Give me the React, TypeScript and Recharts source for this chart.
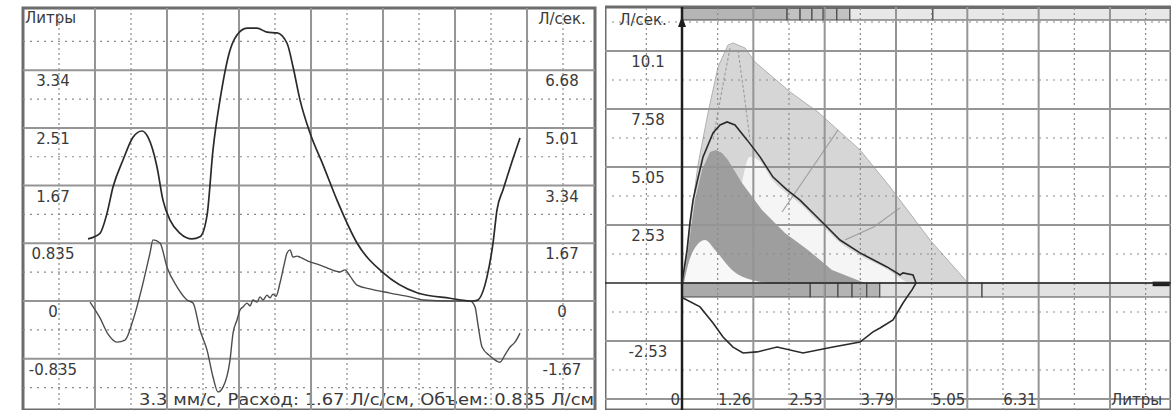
import React from 'react';
import { ComposedChart, Line, Area, XAxis, YAxis, ReferenceLine, ReferenceArea } from 'recharts';

// ---------- left panel: volume and flow against time ----------
// time is counted in grid divisions, volume in litres, flow in l/s
const volumeByTime: number[][] = [
    [0.903, 0.9], [1.069, 0.98], [1.167, 1.27], [1.25, 1.65], [1.389, 2.04], [1.528, 2.37],
    [1.653, 2.46], [1.736, 2.37], [1.861, 1.94], [1.944, 1.46], [2.042, 1.17], [2.181, 0.98],
    [2.347, 0.9], [2.458, 0.93], [2.556, 1.24], [2.639, 2.19], [2.736, 2.91], [2.875, 3.63],
    [2.972, 3.85], [3.111, 3.95], [3.25, 3.95], [3.389, 3.89], [3.528, 3.88], [3.667, 3.73],
    [3.75, 3.39], [3.847, 2.91], [3.986, 2.43], [4.167, 1.97], [4.361, 1.46], [4.639, 0.84],
    [5.0, 0.41], [5.472, 0.12], [5.931, 0.04], [6.236, 0.0], [6.306, 0.01], [6.444, 0.35],
    [6.528, 0.84], [6.583, 1.32], [6.667, 1.61], [6.764, 1.93], [6.903, 2.36],
];

const flowByTime: number[][] = [
    [0.931, -0.03], [1.069, -0.49], [1.181, -0.96], [1.306, -1.19], [1.417, -1.13], [1.528, -0.55],
    [1.667, 0.52], [1.764, 1.39], [1.806, 1.77], [1.903, 1.68], [2.0, 0.98], [2.139, 0.41],
    [2.278, 0.03], [2.361, -0.06], [2.458, -0.84], [2.556, -1.42], [2.639, -2.2], [2.708, -2.63],
    [2.778, -2.49], [2.875, -1.71], [2.917, -0.93], [2.972, -0.55], [3.014, -0.26], [3.056, -0.17],
    [3.111, -0.06], [3.153, -0.14], [3.194, 0.03], [3.25, -0.03], [3.292, 0.12], [3.333, 0.03],
    [3.389, 0.17], [3.431, 0.09], [3.472, 0.2], [3.514, 0.14], [3.569, 0.52], [3.625, 1.04],
    [3.667, 1.39], [3.708, 1.48], [3.75, 1.27], [3.806, 1.3], [3.847, 1.27], [3.986, 1.13],
    [4.125, 1.04], [4.222, 0.96], [4.333, 0.87], [4.403, 0.84], [4.472, 0.9], [4.542, 0.72],
    [4.639, 0.46], [4.819, 0.35], [5.097, 0.23], [5.375, 0.12], [5.556, 0.03], [5.931, 0.0],
    [6.208, 0.0], [6.278, -0.17], [6.319, -0.69], [6.375, -1.33], [6.486, -1.59], [6.625, -1.77],
    [6.694, -1.56], [6.764, -1.33], [6.833, -1.19], [6.903, -0.93],
];

const volMajor = [-0.835, 0, 0.835, 1.67, 2.505, 3.34];
const volLabels = ['-0.835', '0', '0.835', '1.67', '2.51', '3.34'];
const flowLabels = ['-1.67', '0', '1.67', '3.34', '5.01', '6.68'];
const volMinor = [-1.2525, -0.4175, 0.4175, 1.2525, 2.0875, 2.9225, 3.7575];
const timeMajor = [1, 2, 3, 4, 5, 6, 7];
const timeMinor = [0.5, 1.5, 2.5, 3.5, 4.5, 5.5, 6.5, 7.5];
const caption = '3.3 мм/с, Расход: 1.67 Л/с/см, Объем: 0.835 Л/см';

// ---------- right panel: flow-volume loop ----------
const loopCurve: number[][] = [
    [0, 0], [0.089, 1.44], [0.142, 2.66], [0.195, 3.61], [0.283, 4.57], [0.372, 5.49],
    [0.549, 6.53], [0.673, 6.88], [0.797, 7.01], [0.938, 6.88], [1.151, 6.23], [1.381, 5.49],
    [1.611, 4.61], [1.859, 4.05], [2.089, 3.61], [2.354, 2.96], [2.567, 2.44], [2.797, 1.87],
    [3.151, 1.31], [3.629, 0.7], [3.859, 0.35], [3.912, 0.44], [4.089, 0.35], [4.142, 0],
    [4.071, -0.3], [3.983, -0.61], [3.912, -0.87], [3.735, -1.61], [3.505, -1.96], [3.381, -2.13],
    [3.151, -2.57], [2.673, -2.79], [2.142, -3.05], [1.682, -2.79], [1.328, -3.0], [1.08, -3.05],
    [0.903, -2.79], [0.726, -2.35], [0.549, -1.74], [0.319, -1.04], [0.018, -0.65],
];

const normalRange: number[][] = [
    [0, 0], [0.071, 1.0], [0.177, 3.18], [0.283, 5.14], [0.46, 7.4], [0.637, 9.4], [0.814, 10.36],
    [0.903, 10.45], [1.115, 10.23], [1.292, 9.62], [1.912, 8.32], [2.407, 7.44], [3.151, 5.79],
    [3.682, 4.18], [4.39, 1.87], [5.062, 0],
];

const clearWedge: number[][] = [
    [1.06, 4.35], [1.2, 5.5], [1.381, 5.3], [1.611, 4.45], [1.859, 3.9], [2.089, 3.45],
    [2.354, 2.8], [2.567, 2.3], [2.797, 1.75], [3.151, 1.2], [3.629, 0.6], [3.9, 0.15], [4.0, 0],
];

const normalCore: number[][] = [
    [0, 0], [0.053, 0.57], [0.106, 1.44], [0.23, 3.61], [0.354, 4.92], [0.496, 5.7], [0.602, 5.79],
    [0.708, 5.66], [0.814, 5.35], [1.062, 4.35], [1.416, 3.18], [1.823, 2.18], [2.23, 1.44],
    [2.655, 0.57], [3.239, 0],
];

const coreGap: number[][] = [
    [0.035, 0], [0.106, 0.78], [0.266, 1.65], [0.407, 1.87], [0.584, 1.44], [0.885, 0.57],
    [1.239, 0.13], [1.558, 0],
];

const guideLines: number[][][] = [
    [[0.85, 10.23], [0.7, 8.3], [0.549, 6.23]],
    [[0.991, 10.14], [1.1, 8.2], [1.204, 6.23]],
    [[1.77, 3.09], [2.761, 6.66]],
    [[2.885, 1.87], [3.4, 2.45], [3.859, 3.27]],
];

const litreMajor = [0, 1.2625, 2.525, 3.7875, 5.05, 6.3125, 7.575];
const litreLabels = ['0', '1.26', '2.53', '3.79', '5.05', '6.31', 'Литры'];
const litreMinor = [-0.63125, 0.63125, 1.89375, 3.15625, 4.41875, 5.68125, 6.94375, 8.20625];
const lpsMajor = [-5.05, -2.525, 2.525, 5.05, 7.575, 10.1];
const lpsLabels = ['', '-2.53', '2.53', '5.05', '7.58', '10.1'];
const lpsMinor = [-3.7875, -1.2625, 1.2625, 3.7875, 6.3125, 8.8375, 11.3625];

// scale markers of the two bars (litres)
const topBarBoxes = [1.86, 2.09, 2.3, 2.5, 2.74, 2.97];
const topBarSplit = 4.44;
const bottomBarBoxes = [2.27, 2.53, 2.76, 3.01, 3.27, 3.5];
const bottomBarSplit = 5.31;

const T_DOMAIN: [number, number] = [0, 7.944];
const VOL_DOMAIN: [number, number] = [-1.577, 4.24];
const FLOW_DOMAIN: [number, number] = [-3.154, 8.48];
const L_DOMAIN: [number, number] = [-1.363, 8.655];
const F_DOMAIN: [number, number] = [-5.529, 12.015];

const FONT = '"DejaVu Sans", "Liberation Sans", sans-serif';
const TEXT = '#3a3a3a';
const GRID = '#959595';
const DOT = '#8a8a8a';
const FRAME = '#6c6c6c';

const textStyle = { fontFamily: FONT, fontSize: 15, fill: TEXT };

const toRows = (arr: number[][], xk: string, yk: string) => arr.map(([a, b]) => ({ [xk]: a, [yk]: b }));

const LeftPanel = () => {
    const frameLabel = (p: any) => {
        const vb = p.viewBox;
        return (
            <g>
                <text x={vb.x + 2} y={vb.y + 15} {...textStyle}>Литры</text>
                <text x={vb.x + vb.width - 33} y={vb.y + 16} textAnchor="middle" {...textStyle}>Л/сек.</text>
                <text x={vb.x + vb.width - 1} y={vb.y + vb.height - 5} textAnchor="end"
                    textLength={455} lengthAdjust="spacingAndGlyphs" {...textStyle}>{caption}</text>
            </g>
        );
    };

    return (
        <ComposedChart width={600} height={410} margin={{ top: 8, right: 5, bottom: 0, left: 23 }}>
            <XAxis type="number" dataKey="t" domain={T_DOMAIN} allowDataOverflow hide />
            <YAxis yAxisId="vol" type="number" domain={VOL_DOMAIN} allowDataOverflow hide />
            <YAxis yAxisId="flow" type="number" domain={FLOW_DOMAIN} allowDataOverflow hide />

            {timeMinor.map(t => (
                <ReferenceLine key={'tn' + t} yAxisId="vol" x={t} stroke={DOT} strokeWidth={1.2} strokeDasharray="2 3" />
            ))}
            {volMinor.map(v => (
                <ReferenceLine key={'vn' + v} yAxisId="vol" y={v} stroke={DOT} strokeWidth={1.2} strokeDasharray="2 5" />
            ))}
            {timeMajor.map(t => (
                <ReferenceLine key={'tm' + t} yAxisId="vol" x={t} stroke={GRID} strokeWidth={2} />
            ))}
            {volMajor.map((v, i) => (
                <ReferenceLine key={'vm' + v} yAxisId="vol" y={v} stroke={GRID} strokeWidth={2}
                    label={(p: any) => (
                        <g>
                            <text x={p.viewBox.x + 30} y={p.viewBox.y + 16} textAnchor="middle" {...textStyle}>{volLabels[i]}</text>
                            <text x={p.viewBox.x + p.viewBox.width - 33} y={p.viewBox.y + 16} textAnchor="middle" {...textStyle}>{flowLabels[i]}</text>
                        </g>
                    )} />
            ))}
            <ReferenceArea yAxisId="vol" x1={T_DOMAIN[0]} x2={T_DOMAIN[1]} y1={VOL_DOMAIN[0]} y2={VOL_DOMAIN[1]}
                fill="none" stroke={FRAME} strokeWidth={3} label={frameLabel} />

            <Line data={toRows(flowByTime, 't', 'f')} yAxisId="flow" dataKey="f" type="monotone"
                stroke="#4d4d4d" strokeWidth={1.4} dot={false} isAnimationActive={false} />
            <Line data={toRows(volumeByTime, 't', 'v')} yAxisId="vol" dataKey="v" type="monotone"
                stroke="#2a2a2a" strokeWidth={1.7} dot={false} isAnimationActive={false} />
        </ComposedChart>
    );
};

const RIGHT_W = 566;
const RIGHT_H = 410;
const RIGHT_MARGIN = { top: 7, right: 0, bottom: 0, left: 0 };

// bottom layer: the shaded predicted ranges
const RightShading = () => (
    <ComposedChart width={RIGHT_W} height={RIGHT_H} margin={RIGHT_MARGIN}>
        <XAxis type="number" dataKey="v" domain={L_DOMAIN} allowDataOverflow hide />
        <YAxis type="number" domain={F_DOMAIN} allowDataOverflow hide />
        <Area data={toRows(normalRange, 'v', 'f')} dataKey="f" type="linear" baseValue={0}
            fill="#d6d6d6" fillOpacity={1} stroke="#b0b0b0" strokeWidth={1} isAnimationActive={false} />
        <Area data={toRows(clearWedge, 'v', 'f')} dataKey="f" type="monotone" baseValue={0}
            fill="#f5f5f5" fillOpacity={1} stroke="none" isAnimationActive={false} />
        <Area data={toRows(normalCore, 'v', 'f')} dataKey="f" type="linear" baseValue={0}
            fill="#9e9e9e" fillOpacity={1} stroke="none" isAnimationActive={false} />
        <Area data={toRows(coreGap, 'v', 'f')} dataKey="f" type="monotone" baseValue={0}
            fill="#f8f8f8" fillOpacity={1} stroke="none" isAnimationActive={false} />
        {guideLines.map((g, i) => (
            <Line key={'g' + i} data={toRows(g, 'v', 'f')} dataKey="f" type="linear"
                stroke="#9c9c9c" strokeWidth={1.1} strokeDasharray={i < 2 ? '3 2' : undefined}
                dot={false} isAnimationActive={false} />
        ))}
    </ComposedChart>
);

// top layer: grid, bars, frame, labels and the measured loop
const RightOverlay = () => {
    const frameLabel = (p: any) => (
        <text x={p.viewBox.x + 38} y={p.viewBox.y + 18} textAnchor="middle" {...textStyle}>Л/сек.</text>
    );

    const barSegment = (key: string, x1: number, x2: number, y1: number, y2: number, fill: string) => (
        <ReferenceArea key={key} x1={x1} x2={x2} y1={y1} y2={y2} fill={fill} fillOpacity={1}
            stroke="#4a4a4a" strokeWidth={1.2} />
    );

    return (
        <ComposedChart width={RIGHT_W} height={RIGHT_H} margin={RIGHT_MARGIN}>
            <XAxis type="number" dataKey="v" domain={L_DOMAIN} allowDataOverflow hide />
            <YAxis type="number" domain={F_DOMAIN} allowDataOverflow hide />

            {litreMinor.map(v => (
                <ReferenceLine key={'ln' + v} x={v} stroke={DOT} strokeWidth={1.2} strokeDasharray="2 3" />
            ))}
            {lpsMinor.map(f => (
                <ReferenceLine key={'fn' + f} y={f} stroke={DOT} strokeWidth={1.2} strokeDasharray="2 5" />
            ))}
            {lpsMajor.map((f, i) => (
                <ReferenceLine key={'fm' + f} y={f} stroke={GRID} strokeWidth={2}
                    label={(p: any) => (
                        <text x={p.viewBox.x + 43} y={p.viewBox.y + 16} textAnchor="middle" {...textStyle}>{lpsLabels[i]}</text>
                    )} />
            ))}
            {litreMajor.map((v, i) => (
                <ReferenceLine key={'lm' + v} x={v} stroke={v === 0 ? '#1e1e1e' : GRID} strokeWidth={v === 0 ? 2.5 : 2}
                    label={(p: any) => {
                        const vb = p.viewBox;
                        const isUnit = i === litreLabels.length - 1;
                        return (
                            <g>
                                {v === 0 && (
                                    <polygon points={`${vb.x - 4},${vb.y + 20} ${vb.x + 4},${vb.y + 20} ${vb.x},${vb.y + 9}`} fill="#1e1e1e" />
                                )}
                                <text x={isUnit ? vb.x + 1 : vb.x - 2} y={vb.y + vb.height - 5}
                                    textAnchor={isUnit ? 'start' : 'end'} {...textStyle}>{litreLabels[i]}</text>
                            </g>
                        );
                    }} />
            ))}
            <ReferenceLine y={0} stroke="#2a2a2a" strokeWidth={1.5} />

            {/* top bar */}
            {barSegment('tb0', 0, topBarBoxes[0], 11.45, 11.97, '#b5b5b5')}
            {topBarBoxes.slice(0, -1).map((b, i) =>
                barSegment('tbb' + i, b, topBarBoxes[i + 1], 11.45, 11.97, '#c2c2c2'))}
            {barSegment('tb1', topBarBoxes[topBarBoxes.length - 1], topBarSplit, 11.45, 11.97, '#e8e8e8')}
            {barSegment('tb2', topBarSplit, L_DOMAIN[1], 11.45, 11.97, '#e8e8e8')}

            {/* bottom bar */}
            {barSegment('bb0', 0, bottomBarBoxes[0], -0.61, 0, '#aaaaaa')}
            {bottomBarBoxes.slice(0, -1).map((b, i) =>
                barSegment('bbb' + i, b, bottomBarBoxes[i + 1], -0.61, 0, '#b4b4b4'))}
            {barSegment('bb1', bottomBarBoxes[bottomBarBoxes.length - 1], bottomBarSplit, -0.61, 0, '#e0e0e0')}
            {barSegment('bb2', bottomBarSplit, L_DOMAIN[1], -0.61, 0, '#e2e2e2')}
            <ReferenceArea x1={8.33} x2={L_DOMAIN[1]} y1={-0.14} y2={0.06} fill="#1e1e1e" fillOpacity={1} stroke="none" />

            <ReferenceArea x1={L_DOMAIN[0]} x2={L_DOMAIN[1]} y1={F_DOMAIN[0]} y2={F_DOMAIN[1]}
                fill="none" stroke={FRAME} strokeWidth={3} label={frameLabel} />

            <Line data={toRows(loopCurve, 'v', 'f')} dataKey="f" type="linear"
                stroke="#2a2a2a" strokeWidth={1.6} dot={false} isAnimationActive={false} />
        </ComposedChart>
    );
};

export default function App() {
    return (
        <div style={{ position: 'fixed', left: 0, top: 0, width: 1171, height: 410, background: '#fff', overflow: 'hidden' }}>
            <div style={{ position: 'absolute', left: 0, top: 0 }}>
                <LeftPanel />
            </div>
            <div style={{ position: 'absolute', left: 605, top: 0 }}>
                <RightShading />
            </div>
            <div style={{ position: 'absolute', left: 605, top: 0 }}>
                <RightOverlay />
            </div>
        </div>
    );
}
